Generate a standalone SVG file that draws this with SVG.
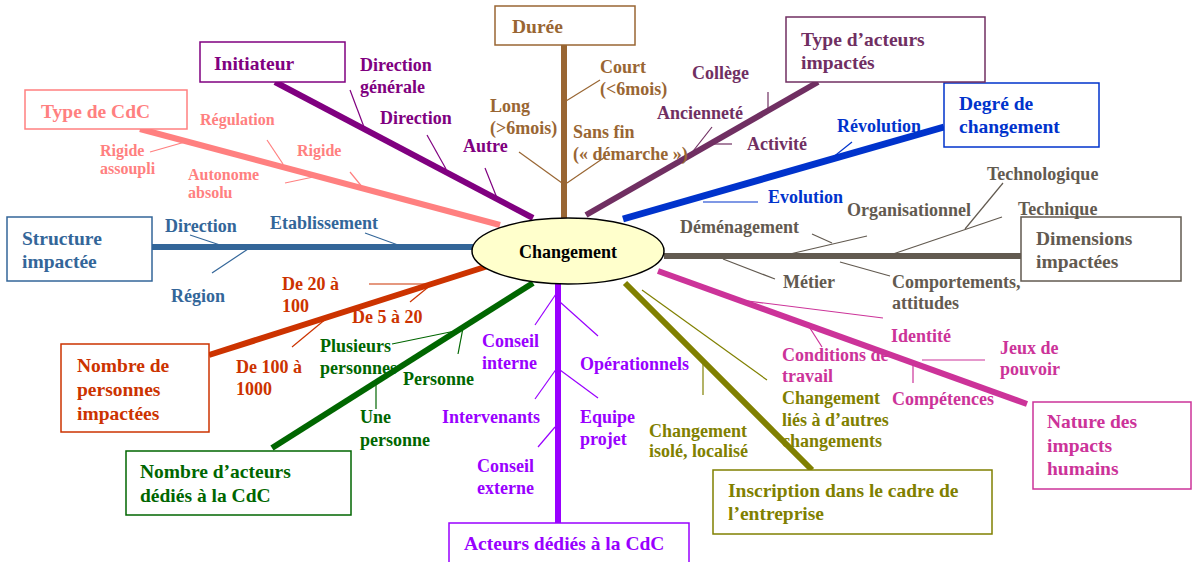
<svg xmlns="http://www.w3.org/2000/svg" width="1192" height="562" viewBox="0 0 1192 562">
<style>
text{font-family:"Liberation Serif","Times New Roman",serif;font-weight:bold;font-size:18px}
.tt{font-size:19.5px}
.sm{font-size:16px}
.box{fill:#fff;stroke-width:1.5}
.main{stroke-width:6;fill:none}
.br{stroke-width:1.2;fill:none}
.pk{fill:#FF8080}.pks{stroke:#FF8080}
.pu{fill:#800080}.pus{stroke:#800080}
.bn{fill:#996633}.bns{stroke:#996633}
.ta{fill:#702F62}.tas{stroke:#702F62}
.bl{fill:#0033CC}.bls{stroke:#0033CC}
.gr{fill:#625A50}.grs{stroke:#625A50}
.mg{fill:#CC3399}.mgs{stroke:#CC3399}
.ol{fill:#808000}.ols{stroke:#808000}
.vi{fill:#9900FF}.vis{stroke:#9900FF}
.dg{fill:#006600}.dgs{stroke:#006600}
.or{fill:#CC3300}.ors{stroke:#CC3300}
.sb{fill:#336699}.sbs{stroke:#336699}
</style>
<rect width="1192" height="562" fill="#fff"/>
<g id="connectors">
  <!-- main axes -->
  <line class="main bns" x1="564" y1="45" x2="564" y2="219"/>
  <line class="main pus" x1="275" y1="82" x2="533" y2="218"/>
  <line class="main pks" x1="140" y1="129" x2="500" y2="225"/>
  <line class="main sbs" x1="152" y1="247" x2="473" y2="247"/>
  <line class="main ors" x1="209" y1="355" x2="488" y2="266"/>
  <line class="main dgs" x1="272" y1="448" x2="533" y2="283"/>
  <line class="main vis" x1="558" y1="284" x2="558" y2="523"/>
  <line class="main ols" x1="625" y1="283" x2="812" y2="470"/>
  <line class="main mgs" x1="658" y1="271" x2="1027" y2="404"/>
  <line class="main grs" x1="664" y1="256" x2="1021" y2="256"/>
  <line class="main bls" x1="623" y1="219" x2="944" y2="127" style="stroke-width:7"/>
  <line class="main tas" x1="586" y1="215" x2="818" y2="82"/>
  <!-- branches: Durée -->
  <line class="br bns" x1="566" y1="101" x2="600" y2="80"/>
  <line class="br bns" x1="519" y1="152" x2="562" y2="183"/>
  <line class="br bns" x1="567" y1="183" x2="605" y2="157"/>
  <!-- Initiateur -->
  <line class="br pus" x1="350" y1="90" x2="364" y2="127"/>
  <line class="br pus" x1="427" y1="135" x2="446" y2="169"/>
  <line class="br pus" x1="485" y1="168" x2="497" y2="198"/>
  <!-- Type de CdC -->
  <line class="br pks" x1="150" y1="152" x2="185" y2="142"/>
  <line class="br pks" x1="267" y1="140" x2="283" y2="164"/>
  <line class="br pks" x1="285" y1="183" x2="318" y2="176"/>
  <line class="br pks" x1="350" y1="172" x2="363" y2="188"/>
  <!-- Structure -->
  <line class="br sbs" x1="190" y1="235" x2="220" y2="245"/>
  <line class="br sbs" x1="212" y1="273" x2="248" y2="249"/>
  <line class="br sbs" x1="365" y1="233" x2="398" y2="245"/>
  <!-- Nombre de personnes -->
  <line class="br ors" x1="369" y1="284" x2="432" y2="284"/>
  <line class="br ors" x1="410" y1="302" x2="432" y2="284"/>
  <line class="br ors" x1="292" y1="347" x2="327" y2="318"/>
  <!-- Nombre d'acteurs -->
  <line class="br dgs" x1="392" y1="344" x2="455" y2="331"/>
  <line class="br dgs" x1="463" y1="328" x2="458" y2="354"/>
  <line class="br dgs" x1="376" y1="382" x2="376" y2="409"/>
  <!-- Acteurs dédiés -->
  <line class="br vis" x1="556" y1="294" x2="535" y2="325"/>
  <line class="br vis" x1="560" y1="302" x2="598" y2="336"/>
  <line class="br vis" x1="557" y1="368" x2="535" y2="399"/>
  <line class="br vis" x1="560" y1="370" x2="598" y2="398"/>
  <line class="br vis" x1="555" y1="427" x2="538" y2="447"/>
  <!-- Inscription -->
  <line class="br ols" x1="642" y1="290" x2="767" y2="380"/>
  <line class="br ols" x1="703" y1="361" x2="703" y2="395"/>
  <!-- Nature -->
  <line class="br mgs" x1="740" y1="300" x2="883" y2="318"/>
  <line class="br mgs" x1="808" y1="325" x2="822" y2="347"/>
  <line class="br mgs" x1="922" y1="360" x2="985" y2="360"/>
  <line class="br mgs" x1="913" y1="365" x2="913" y2="383"/>
  <!-- Dimensions -->
  <line class="br grs" x1="1003" y1="183" x2="965" y2="229"/>
  <line class="br grs" x1="1002" y1="217" x2="893" y2="254"/>
  <line class="br grs" x1="867" y1="236" x2="790" y2="254"/>
  <line class="br grs" x1="812" y1="234" x2="832" y2="243"/>
  <line class="br grs" x1="723" y1="259" x2="775" y2="279"/>
  <line class="br grs" x1="840" y1="262" x2="890" y2="276"/>
  <!-- Degré -->
  <line class="br bls" x1="852" y1="142" x2="832" y2="158"/>
  <line class="br bls" x1="703" y1="202" x2="758" y2="202"/>
  <!-- Type d'acteurs -->
  <line class="br tas" x1="768" y1="92" x2="768" y2="110"/>
  <line class="br tas" x1="712" y1="127" x2="690" y2="155"/>
  <line class="br tas" x1="712" y1="144" x2="732" y2="144"/>
</g>
<g id="center">
  <ellipse cx="568" cy="251" rx="96" ry="33" fill="#FFFFCC" stroke="#000" stroke-width="1.5"/>
  <text x="568" y="258" text-anchor="middle" fill="#000">Changement</text>
</g>
<g id="duree">
  <rect class="box bns" x="495" y="6" width="140" height="39"/>
  <text class="tt bn" x="512" y="33">Durée</text>
  <text class="bn" x="600" y="73">Court</text>
  <text class="bn" x="600" y="95">(&lt;6mois)</text>
  <text class="bn" x="490" y="112">Long</text>
  <text class="bn" x="490" y="134">(&gt;6mois)</text>
  <text class="bn" x="573" y="138">Sans fin</text>
  <text class="bn" x="573" y="160">(« démarche »)</text>
</g>
<g id="initiateur">
  <rect class="box pus" x="200" y="42" width="145" height="40"/>
  <text class="tt pu" x="214" y="70">Initiateur</text>
  <text class="pu" x="360" y="71">Direction</text>
  <text class="pu" x="360" y="93">générale</text>
  <text class="pu" x="380" y="124">Direction</text>
  <text class="pu" x="463" y="152">Autre</text>
</g>
<g id="type-cdc">
  <rect class="box pks" x="25" y="90" width="162" height="39"/>
  <text class="tt pk" x="41" y="118">Type de CdC</text>
  <text class="sm pk" x="200" y="125">Régulation</text>
  <text class="sm pk" x="100" y="156">Rigide</text>
  <text class="sm pk" x="100" y="174">assoupli</text>
  <text class="sm pk" x="188" y="180">Autonome</text>
  <text class="sm pk" x="188" y="198">absolu</text>
  <text class="sm pk" x="297" y="156">Rigide</text>
</g>
<g id="structure">
  <rect class="box sbs" x="7" y="217" width="145" height="64"/>
  <text class="tt sb" x="22" y="245">Structure</text>
  <text class="tt sb" x="22" y="268">impactée</text>
  <text class="sb" x="165" y="232">Direction</text>
  <text class="sb" x="171" y="302">Région</text>
  <text class="sb" x="270" y="229">Etablissement</text>
</g>
<g id="nombre-personnes">
  <rect class="box ors" x="61" y="344" width="148" height="88"/>
  <text class="tt or" x="77" y="372">Nombre de</text>
  <text class="tt or" x="77" y="396">personnes</text>
  <text class="tt or" x="77" y="420">impactées</text>
  <text class="or" x="282" y="290">De 20 à</text>
  <text class="or" x="282" y="312">100</text>
  <text class="or" x="352" y="323">De 5 à 20</text>
  <text class="or" x="236" y="373">De 100 à</text>
  <text class="or" x="236" y="395">1000</text>
</g>
<g id="nombre-acteurs">
  <rect class="box dgs" x="126" y="451" width="225" height="64"/>
  <text class="tt dg" x="140" y="478">Nombre d’acteurs</text>
  <text class="tt dg" x="140" y="502">dédiés à la CdC</text>
  <text class="dg" x="320" y="352">Plusieurs</text>
  <text class="dg" x="320" y="374">personnes</text>
  <text class="dg" x="403" y="385">Personne</text>
  <text class="dg" x="360" y="423">Une</text>
  <text class="dg" x="360" y="446">personne</text>
</g>
<g id="acteurs-dedies">
  <rect class="box vis" x="449" y="523" width="240" height="50"/>
  <text class="tt vi" x="464" y="550">Acteurs dédiés à la CdC</text>
  <text class="vi" x="482" y="347">Conseil</text>
  <text class="vi" x="482" y="369">interne</text>
  <text class="vi" x="580" y="370">Opérationnels</text>
  <text class="vi" x="442" y="423">Intervenants</text>
  <text class="vi" x="580" y="423">Equipe</text>
  <text class="vi" x="580" y="445">projet</text>
  <text class="vi" x="477" y="472">Conseil</text>
  <text class="vi" x="477" y="494">externe</text>
</g>
<g id="inscription">
  <rect class="box ols" x="713" y="470" width="279" height="64"/>
  <text class="tt ol" x="728" y="497">Inscription dans le cadre de</text>
  <text class="tt ol" x="728" y="520">l’entreprise</text>
  <text class="ol" x="649" y="437">Changement</text>
  <text class="ol" x="649" y="457">isolé, localisé</text>
  <text class="ol" x="782" y="404">Changement</text>
  <text class="ol" x="782" y="426">liés à d’autres</text>
  <text class="ol" x="782" y="447">changements</text>
</g>
<g id="nature">
  <rect class="box mgs" x="1033" y="402" width="158" height="87"/>
  <text class="tt mg" x="1047" y="428">Nature des</text>
  <text class="tt mg" x="1047" y="452">impacts</text>
  <text class="tt mg" x="1047" y="475">humains</text>
  <text class="mg" x="891" y="342">Identité</text>
  <text class="mg" x="782" y="361">Conditions de</text>
  <text class="mg" x="782" y="382">travail</text>
  <text class="mg" x="1000" y="354">Jeux de</text>
  <text class="mg" x="1000" y="375">pouvoir</text>
  <text class="mg" x="892" y="405">Compétences</text>
</g>
<g id="dimensions">
  <rect class="box grs" x="1021" y="217" width="160" height="64"/>
  <text class="tt gr" x="1036" y="245">Dimensions</text>
  <text class="tt gr" x="1036" y="268">impactées</text>
  <text class="gr" x="987" y="180">Technologique</text>
  <text class="gr" x="1018" y="215">Technique</text>
  <text class="gr" x="847" y="216">Organisationnel</text>
  <text class="gr" x="680" y="233">Déménagement</text>
  <text class="gr" x="783" y="288">Métier</text>
  <text class="gr" x="892" y="288">Comportements,</text>
  <text class="gr" x="892" y="309">attitudes</text>
</g>
<g id="degre">
  <rect class="box bls" x="944" y="83" width="155" height="64"/>
  <text class="tt bl" x="959" y="110">Degré de</text>
  <text class="tt bl" x="959" y="133">changement</text>
  <text class="bl" x="837" y="132">Révolution</text>
  <text class="bl" x="768" y="203">Evolution</text>
</g>
<g id="type-acteurs">
  <rect class="box tas" x="786" y="17" width="199" height="65"/>
  <text class="tt ta" x="801" y="46">Type d’acteurs</text>
  <text class="tt ta" x="801" y="69">impactés</text>
  <text class="ta" x="692" y="79">Collège</text>
  <text class="ta" x="657" y="119">Ancienneté</text>
  <text class="ta" x="747" y="150">Activité</text>
</g>
</svg>
